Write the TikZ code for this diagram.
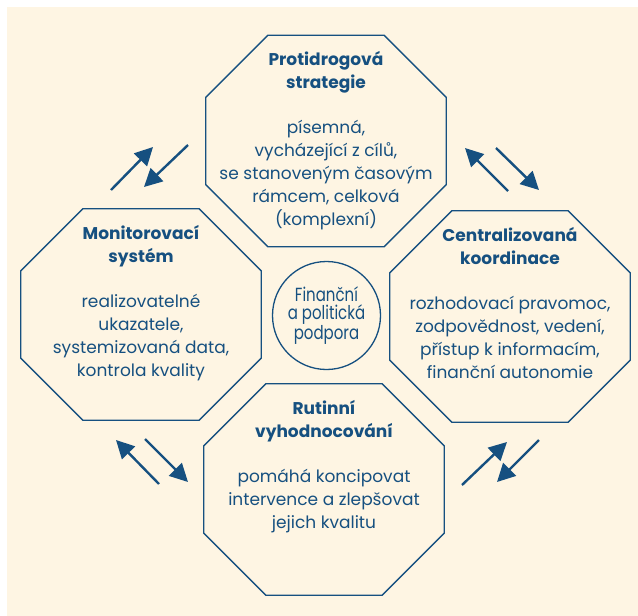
\documentclass[tikz,border=0pt]{standalone}
\usepackage{fontspec}
\setmainfont{Poppins}
\newfontfamily\narrowfont[FakeStretch=0.79]{Poppins}
\usetikzlibrary{arrows.meta}
\definecolor{schemablue}{RGB}{22,80,128}
\definecolor{schemacream}{RGB}{254,245,227}

\begin{document}
\begin{tikzpicture}[x=1pt,y=-1pt,
  oct node/.style={rectangle,minimum width=240pt,minimum height=211pt,inner sep=0pt},
  oct text/.style={anchor=north,align=center,inner sep=0pt,text=schemablue,
    font=\fontsize{17}{23}\selectfont},
  mid node/.style={circle,draw=schemablue,line width=1.3pt,minimum size=108pt,
    inner sep=0pt,align=center,text=schemablue,font=\narrowfont\fontsize{19}{18.5}\selectfont},
  link/.style={-{Triangle[length=18pt,width=18pt]},line width=2.4pt,draw=schemablue}]

\useasboundingbox (0,0) rectangle (638,616);
\fill[schemacream] (7,7) rectangle (638,616);

\node[mid node] (podpora) at (326.5,315.5) {Finanční\\a politická\\podpora};

\node[oct node] (strategie) at (326,141) {};
\node[oct node] (monitor) at (141,314.5) {};
\node[oct node] (koordinace) at (510,316.5) {};
\node[oct node] (rutina) at (324,489.5) {};

\foreach \o in {strategie,monitor,koordinace,rutina}
  \draw[schemablue,line width=1.3pt]
    ([xshift=62pt]\o.north west) -- ([xshift=-62pt]\o.north east)
    -- ([yshift=-62pt]\o.north east) -- ([yshift=62pt]\o.south east)
    -- ([xshift=-62pt]\o.south east) -- ([xshift=62pt]\o.south west)
    -- ([yshift=62pt]\o.south west) -- ([yshift=-62pt]\o.north west) -- cycle;

\node[oct text] (strategie-t) at ([yshift=-16pt]strategie.north)
  {\textbf{Protidrogová}\\\textbf{strategie}\\[22pt]písemná,\\vycházející z cílů,\\
   se stanoveným časovým\\rámcem, celková\\(komplexní)};
\node[oct text] (monitor-t) at ([yshift=-16pt]monitor.north)
  {\textbf{Monitorovací}\\\textbf{systém}\\[22pt]realizovatelné\\ukazatele,\\
   systemizovaná data,\\kontrola kvality};
\node[oct text] (koordinace-t) at ([yshift=-16pt]koordinace.north)
  {\textbf{Centralizovaná}\\\textbf{koordinace}\\[22pt]rozhodovací pravomoc,\\
   zodpovědnost, vedení,\\přístup k informacím,\\finanční autonomie};
\node[oct text] (rutina-t) at ([yshift=-16pt]rutina.north)
  {\textbf{Rutinní}\\\textbf{vyhodnocování}\\[22pt]pomáhá koncipovat\\
   intervence a zlepšovat\\jejich kvalitu};

% arrow ends between the octagons
\coordinate (tl1) at (111,190); \coordinate (tl2) at (153,147);
\coordinate (tl3) at (188,145); \coordinate (tl4) at (144,187);
\coordinate (tr1) at (508,191); \coordinate (tr2) at (465,148);
\coordinate (tr3) at (496,148); \coordinate (tr4) at (539,190);
\coordinate (bl1) at (159,484); \coordinate (bl2) at (116,440);
\coordinate (bl3) at (145,439); \coordinate (bl4) at (188,482);
\coordinate (br1) at (462,485); \coordinate (br2) at (507,442);
\coordinate (br3) at (539,440); \coordinate (br4) at (497,482);

\foreach \a/\b in {tl1/tl2,tl3/tl4,tr1/tr2,tr3/tr4,bl1/bl2,bl3/bl4,br1/br2,br3/br4}
  \draw[link] (\a) -- (\b);
\end{tikzpicture}
\end{document}
